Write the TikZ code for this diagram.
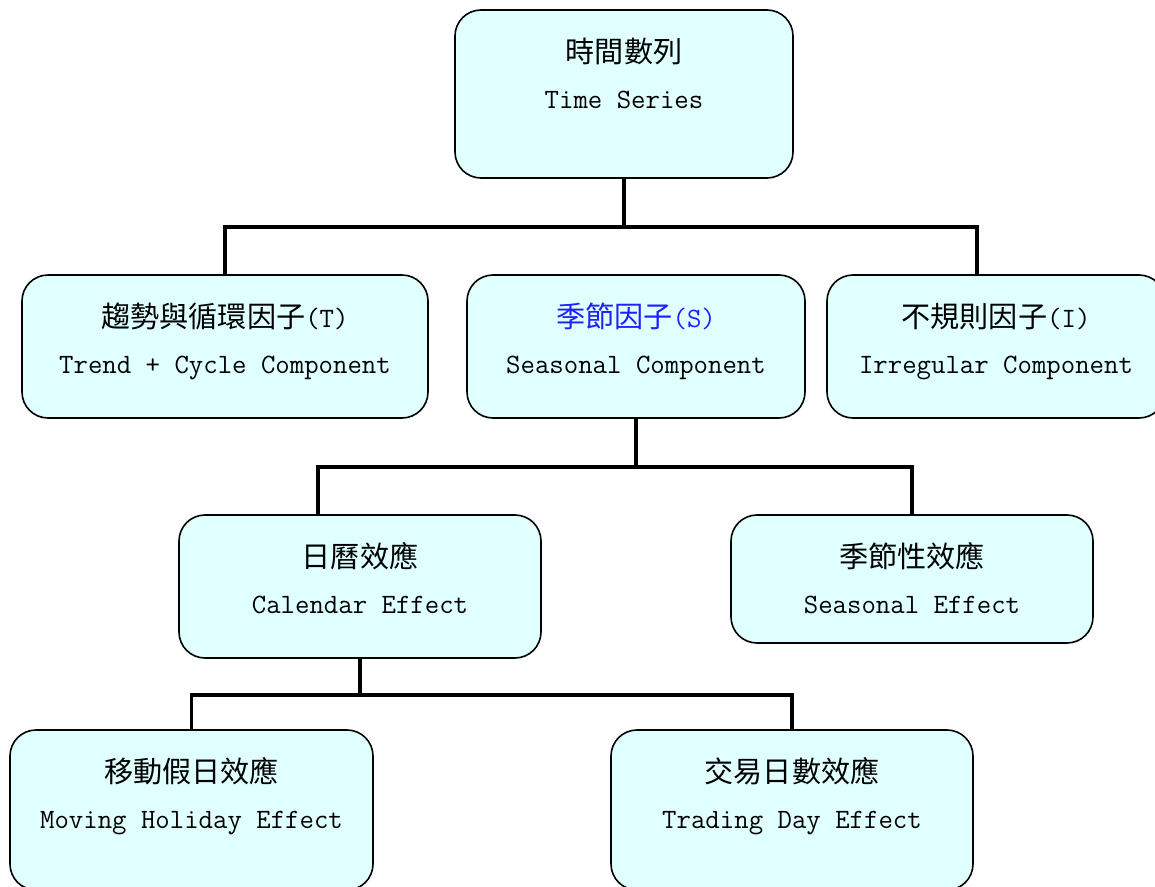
\documentclass[tikz,border=0pt]{standalone}
\usepackage{fontspec}
\usepackage{xcolor}
\newfontfamily\cjk{Noto Sans CJK TC}[Scale=1.04]
\usetikzlibrary{positioning}
\definecolor{boxfill}{HTML}{E0FFFF}
\definecolor{seasblue}{HTML}{2020FF}
\newcommand{\twolines}[2]{{\cjk #1}\strut\\#2\strut}

\begin{document}
\begin{tikzpicture}[x=1pt,y=-1pt,line join=miter,
  box/.style={draw,line width=1.6pt,fill=boxfill,rounded corners=26pt,
              minimum height=143pt,inner sep=0pt},
  txt/.style={align=center,inner sep=0pt,
              font=\fontsize{28}{46}\selectfont\ttfamily},
  link/.style={line width=3.6pt}]
  \useasboundingbox (0,0) rectangle (1155,886);

  % boxes
  \node[box,minimum width=338pt,minimum height=168pt] (ts)    at (624,94)     {};
  \node[box,minimum width=406pt]                      (trend) at (225,346.5)  {};
  \node[box,minimum width=338pt]                      (seas)  at (636,346.5)  {};
  \node[box,minimum width=338pt]                      (irr)   at (996,346.5)  {};
  \node[box,minimum width=362pt]                      (cal)   at (360,586.5)  {};
  \node[box,minimum width=362pt,minimum height=128pt] (seff)  at (912,579)    {};
  \node[box,minimum width=363pt,minimum height=160pt] (mh)    at (191.5,810)  {};
  \node[box,minimum width=362pt,minimum height=160pt] (td)    at (792,810)    {};

  % texts
  \node[txt] (tsT)    at ([yshift=-67pt]ts.north)    {\twolines{時間數列}{Time Series}};
  \node[txt] (trendT) at ([yshift=-67pt]trend.north) {\twolines{趨勢與循環因子\texttt{(T)}}{Trend + Cycle Component}};
  \node[txt] (seasT)  at ([yshift=-67pt]seas.north)  {{\color{seasblue}\cjk 季節因子\texttt{(S)}}\strut\\Seasonal Component\strut};
  \node[txt] (irrT)   at ([yshift=-67pt]irr.north)   {\twolines{不規則因子\texttt{(I)}}{Irregular Component}};
  \node[txt] (calT)   at ([yshift=-67pt]cal.north)   {\twolines{日曆效應}{Calendar Effect}};
  \node[txt] (seffT)  at ([yshift=-67pt]seff.north)  {\twolines{季節性效應}{Seasonal Effect}};
  \node[txt] (mhT)    at ([yshift=-67pt]mh.north)    {\twolines{移動假日效應}{Moving Holiday Effect}};
  \node[txt] (tdT)    at ([yshift=-67pt]td.north)    {\twolines{交易日數效應}{Trading Day Effect}};

  % connectors
  \draw[link] (ts.south) -- ++(0,48) coordinate (j1);
  \draw[link] (trend.north) |- (j1) -| ([xshift=-19pt]irr.north);
  \draw[link] (seas.south) -- ++(0,48) coordinate (j2);
  \draw[link] ([xshift=-42pt]cal.north) |- (j2) -| (seff.north);
  \draw[link] (cal.south) -- ++(0,36) coordinate (j3);
  \draw[link] (mh.north) |- (j3) -| (td.north);
\end{tikzpicture}
\end{document}
